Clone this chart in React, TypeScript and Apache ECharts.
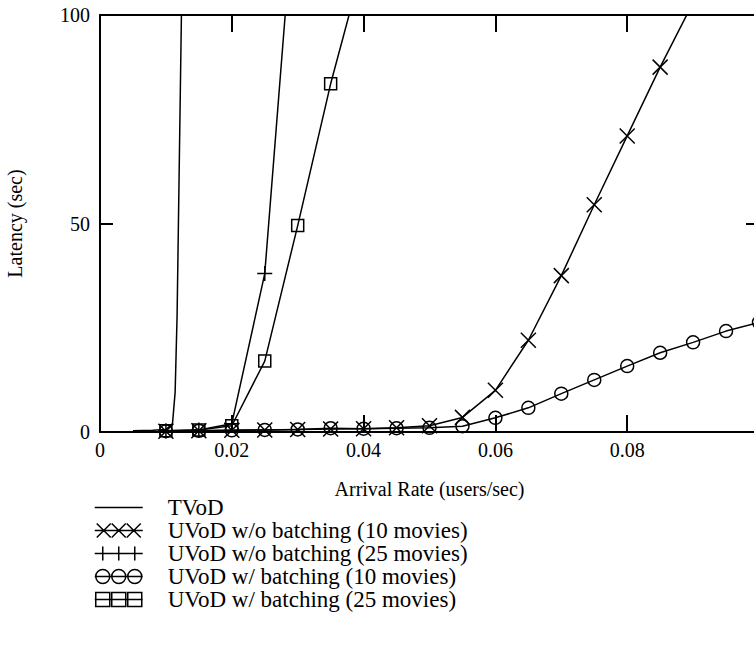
import React, { useEffect, useRef } from "react";
import * as echarts from "echarts";

const seriesNames = [
  "TVoD",
  "UVoD w/o batching (10 movies)",
  "UVoD w/o batching (25 movies)",
  "UVoD w/ batching (10 movies)",
  "UVoD w/ batching (25 movies)",
];

const xTickStep = 0.02;
const xMax = 0.1;
const yTickStep = 50;
const yMax = 100;

const tvodRate = [0.005, 0.008, 0.01, 0.011, 0.0114, 0.0117, 0.0124];
const tvodLatency = [0.3, 0.4, 0.6, 2, 9.5, 28, 105];

const rate10 = [
  0.01, 0.015, 0.02, 0.025, 0.03, 0.035, 0.04, 0.045, 0.05, 0.055, 0.06, 0.065,
  0.07, 0.075, 0.08, 0.085, 0.09, 0.095, 0.1,
];
const noBatch10 = [
  0.2, 0.3, 0.4, 0.5, 0.6, 0.7, 0.8, 1.0, 1.5, 3.5, 10, 22, 37.5, 54.5, 71, 87.5,
  103,
];
const batch10 = [
  0.2, 0.3, 0.4, 0.5, 0.6, 0.9, 0.8, 0.9, 1.0, 1.4, 3.4, 5.8, 9.2, 12.5, 15.8,
  19, 21.5, 24.2, 26.3,
];

const rate25 = [0.01, 0.015, 0.02, 0.025, 0.03, 0.035, 0.04];
const noBatch25 = [0.3, 0.5, 2, 38, 138];
const batch25 = [0.3, 0.5, 1.5, 17, 49.5, 83.5, 113];

const FONT = "Liberation Serif";

const X_SYM = "path://M0,0L10,10M0,10L10,0";
const PLUS_SYM = "path://M5,0L5,10M0,5L10,5";
const CIRCLE_SYM = "path://M0,5A5,5,0,1,0,10,5A5,5,0,1,0,0,5Z";
const SQUARE_SYM = "path://M0,0L10,0L10,10L0,10Z";

const legendIcons = [
  "path://M0,0M0,14M0,7L48,7",
  "path://M0,7L48,7M2,0L16,14M2,14L16,0M17,0L31,14M17,14L31,0M32,0L46,14M32,14L46,0M48,0M48,14",
  "path://M0,7L48,7M8,0L8,14M24,0L24,14M40,0L40,14",
  "path://M0,7L48,7M1,7A7,7,0,1,0,15,7A7,7,0,1,0,1,7M17,7A7,7,0,1,0,31,7A7,7,0,1,0,17,7M33,7A7,7,0,1,0,47,7A7,7,0,1,0,33,7",
  "path://M0,7L48,7M1,0L15,0L15,14L1,14ZM17,0L31,0L31,14L17,14ZM33,0L47,0L47,14L33,14Z",
];

function zip(xs: number[], ys: number[]) {
  return ys.map((y, i) => [xs[i], y]);
}

export default function App() {
  const ref = useRef<HTMLDivElement>(null);
  useEffect(() => {
    document.body.style.margin = "0";
    const chart = echarts.init(ref.current!, undefined, { renderer: "svg" });
    const axisLine = { show: true, onZero: false, lineStyle: { color: "#000", width: 2 } };
    const xTick = { show: true, inside: true, length: 17, lineStyle: { color: "#000", width: 2 } };
    const yTick = { show: true, inside: true, length: 13, lineStyle: { color: "#000", width: 2 } };
    const markerStyle = { color: "transparent", borderColor: "#000", borderWidth: 1.5 };
    const lineStyle = { color: "#000", width: 1.5 };
    const option: any = {
      animation: false,
      backgroundColor: "#fff",
      textStyle: { fontFamily: FONT },
      grid: {
        left: 100,
        top: 15,
        right: -5,
        bottom: 220,
        containLabel: false,
        outerBoundsMode: "none",
      },
      xAxis: [
        {
          type: "value",
          position: "bottom",
          min: 0,
          max: xMax,
          interval: xTickStep,
          name: "Arrival Rate (users/sec)",
          nameLocation: "middle",
          nameGap: 47,
          nameTextStyle: { fontFamily: FONT, fontSize: 20, color: "#000" },
          axisLine,
          axisTick: xTick,
          axisLabel: {
            fontFamily: FONT,
            fontSize: 20,
            color: "#000",
            margin: 8,
            formatter: (v: number) => (v >= xMax - 1e-9 ? "" : String(+v.toFixed(2))),
          },
          splitLine: { show: false },
        },
        {
          type: "value",
          position: "top",
          min: 0,
          max: xMax,
          interval: xTickStep,
          axisLine,
          axisTick: xTick,
          axisLabel: { show: false },
          splitLine: { show: false },
        },
      ],
      yAxis: [
        {
          type: "value",
          position: "left",
          min: 0,
          max: yMax,
          interval: yTickStep,
          name: "Latency (sec)",
          nameLocation: "middle",
          nameGap: 75,
          nameTextStyle: { fontFamily: FONT, fontSize: 20, color: "#000" },
          axisLine,
          axisTick: yTick,
          axisLabel: { fontFamily: FONT, fontSize: 20, color: "#000", margin: 10 },
          splitLine: { show: false },
        },
        {
          type: "value",
          position: "right",
          min: 0,
          max: yMax,
          interval: yTickStep,
          axisLine,
          axisTick: yTick,
          axisLabel: { show: false },
          splitLine: { show: false },
        },
      ],
      legend: {
        orient: "vertical",
        left: 94,
        top: 496,
        padding: 0,
        itemWidth: 48,
        itemHeight: 14,
        itemGap: 0,
        selectedMode: false,
        textStyle: { fontFamily: FONT, fontSize: 23, color: "#000", lineHeight: 22, padding: [0, 0, 0, 20] },
        data: seriesNames.map((n, i) => ({
          name: n,
          icon: legendIcons[i],
          itemStyle: { color: "transparent", borderColor: "#000", borderWidth: 1.5 },
        })),
      },
      series: [
        {
          name: seriesNames[0],
          type: "line",
          data: zip(tvodRate, tvodLatency),
          symbol: "none",
          lineStyle,
          itemStyle: { color: "#000" },
        },
        {
          name: seriesNames[1],
          type: "line",
          data: zip(rate10, noBatch10),
          symbol: X_SYM,
          symbolSize: 15,
          lineStyle,
          itemStyle: markerStyle,
        },
        {
          name: seriesNames[2],
          type: "line",
          data: zip(rate25, noBatch25),
          symbol: PLUS_SYM,
          symbolSize: 15,
          lineStyle,
          itemStyle: markerStyle,
        },
        {
          name: seriesNames[3],
          type: "line",
          data: zip(rate10, batch10),
          symbol: CIRCLE_SYM,
          symbolSize: 13,
          lineStyle,
          itemStyle: markerStyle,
        },
        {
          name: seriesNames[4],
          type: "line",
          data: zip(rate25, batch25),
          symbol: SQUARE_SYM,
          symbolSize: 12,
          lineStyle,
          itemStyle: markerStyle,
        },
      ],
    };
    chart.setOption(option);
    return () => chart.dispose();
  }, []);
  return <div ref={ref} style={{ width: 754, height: 652 }} />;
}
